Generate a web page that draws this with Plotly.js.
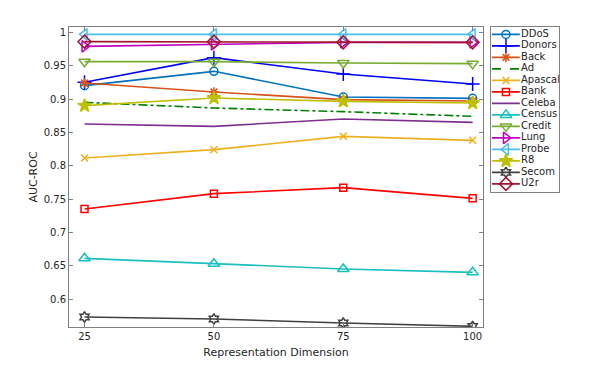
<!DOCTYPE html>
<html>
<head>
<meta charset="utf-8">
<script src="https://cdn.plot.ly/plotly-3.0.1.min.js"></script>
<style>
  html, body { margin: 0; padding: 0; background: #fff; }
  #chart { width: 609px; height: 368px; }
</style>
</head>
<body>
<div id="chart"></div>
<script>
// representation dimension on the x axis
const dims = [25, 50, 75, 100];

// AUC-ROC per dataset
const ddos    = [0.920, 0.9415, 0.903, 0.901];
const donors  = [0.925, 0.962, 0.9375, 0.9225];
const back    = [0.924, 0.9105, 0.899, 0.897];
const ad      = [0.895, 0.8865, 0.881, 0.874];
const apascal = [0.8115, 0.824, 0.844, 0.838];
const bank    = [0.735, 0.758, 0.767, 0.751];
const celeba  = [0.8625, 0.859, 0.870, 0.865];
const census  = [0.661, 0.653, 0.645, 0.640];
const credit  = [0.956, 0.956, 0.954, 0.953];
const lung    = [0.979, 0.982, 0.985, 0.985];
const probe   = [0.997, 0.997, 0.997, 0.997];
const r8      = [0.890, 0.9015, 0.8965, 0.894];
const secom   = [0.573, 0.570, 0.564, 0.559];
const u2r     = [0.986, 0.986, 0.985, 0.985];

const yTicks = [0.6, 0.65, 0.7, 0.75, 0.8, 0.85, 0.9, 0.95, 1];

const series = [
    {name: 'DDoS', y: ddos, color: '#0072BD', symbol: 'circle-open', size: 8},
    {name: 'Donors', y: donors, color: '#0000FF', symbol: 'cross-thin-open', size: 10},
    {name: 'Back', y: back, color: '#D95319', symbol: 'asterisk-open', size: 8},
    {name: 'Ad', y: ad, color: '#008000', symbol: null, dash: 'dashdot'},
    {name: 'Apascal', y: apascal, color: '#EDB120', symbol: 'x-thin-open', size: 7},
    {name: 'Bank', y: bank, color: '#FF0000', symbol: 'square-open', size: 7},
    {name: 'Celeba', y: celeba, color: '#7E2F8E', symbol: null},
    {name: 'Census', y: census, color: '#1ABFBF', symbol: 'triangle-up-open', size: 10},
    {name: 'Credit', y: credit, color: '#77AC30', symbol: 'triangle-down-open', size: 10},
    {name: 'Lung', y: lung, color: '#BF00BF', symbol: 'triangle-right-open', size: 10},
    {name: 'Probe', y: probe, color: '#4DBEEE', symbol: 'triangle-left-open', size: 10},
    {name: 'R8', y: r8, color: '#BFBF00', symbol: 'star', size: 10},
    {name: 'Secom', y: secom, color: '#404040', symbol: 'hexagram-open', size: 8},
    {name: 'U2r', y: u2r, color: '#A2142F', symbol: 'diamond-open', size: 10},
];

function markerOf(s) {
    return {
        symbol: s.symbol || 'circle',
        size: s.size || 8,
        color: s.color,
        line: {color: s.color, width: 1.5},
    };
}

const data = [];
series.forEach((s) => {
    data.push({
        x: dims, y: s.y, name: s.name,
        type: 'scatter',
        mode: s.symbol ? 'lines+markers' : 'lines',
        line: {color: s.color, width: 1.6, dash: s.dash || 'solid'},
        marker: markerOf(s),
        showlegend: false,
        xaxis: 'x', yaxis: 'y',
    });
});

// hand-built legend box in its own small axes (index = row)
series.forEach((s, i) => {
    data.push({
        x: [1.3, 29], y: [i, i],
        type: 'scatter', mode: 'lines',
        line: {color: s.color, width: 1.6, dash: s.dash ? 'dash' : 'solid'},
        showlegend: false, hoverinfo: 'skip',
        xaxis: 'x2', yaxis: 'y2',
    });
    if (s.symbol) {
        data.push({
            x: [15.2], y: [i],
            type: 'scatter', mode: 'markers',
            marker: markerOf(s),
            showlegend: false, hoverinfo: 'skip',
            xaxis: 'x2', yaxis: 'y2',
        });
    }
});
data.push({
    x: series.map(() => 30.2),
    y: series.map((s, i) => i),
    text: series.map((s) => s.name),
    type: 'scatter', mode: 'text',
    textposition: 'middle right',
    textfont: {size: 10, color: '#262626'},
    showlegend: false, hoverinfo: 'skip',
    xaxis: 'x2', yaxis: 'y2',
});

const axisStyle = {
    ticks: 'inside', ticklen: 4, tickcolor: '#808080',
    showline: true, linecolor: '#808080', linewidth: 1, mirror: 'ticks',
    showgrid: false, zeroline: false,
};

const layout = {
    width: 609,
    height: 368,
    margin: {l: 69, r: 50, t: 27, b: 41},
    paper_bgcolor: '#fff',
    plot_bgcolor: '#fff',
    font: {family: 'DejaVu Sans, sans-serif', size: 10, color: '#262626'},
    showlegend: false,
    xaxis: Object.assign({
        domain: [0, 0.8449],
        title: {text: 'Representation Dimension', font: {size: 11}, standoff: 7},
        range: [22, 102],
        tickvals: dims,
    }, axisStyle),
    yaxis: Object.assign({
        title: {text: 'AUC-ROC', font: {size: 11}, standoff: 3},
        range: [0.558, 1.008],
        tickvals: yTicks,
    }, axisStyle),
    xaxis2: {
        domain: [0.8606, 1], anchor: 'y2', range: [0, 68],
        showline: true, mirror: true, linecolor: '#808080', linewidth: 1,
        showticklabels: false, ticks: '', showgrid: false, zeroline: false,
    },
    yaxis2: {
        domain: [0.451, 1], anchor: 'x2', range: [13.68, -0.645],
        showline: true, mirror: true, linecolor: '#808080', linewidth: 1,
        showticklabels: false, ticks: '', showgrid: false, zeroline: false,
    },
};

Plotly.newPlot('chart', data, layout, {displayModeBar: false, staticPlot: true});
</script>
</body>
</html>
